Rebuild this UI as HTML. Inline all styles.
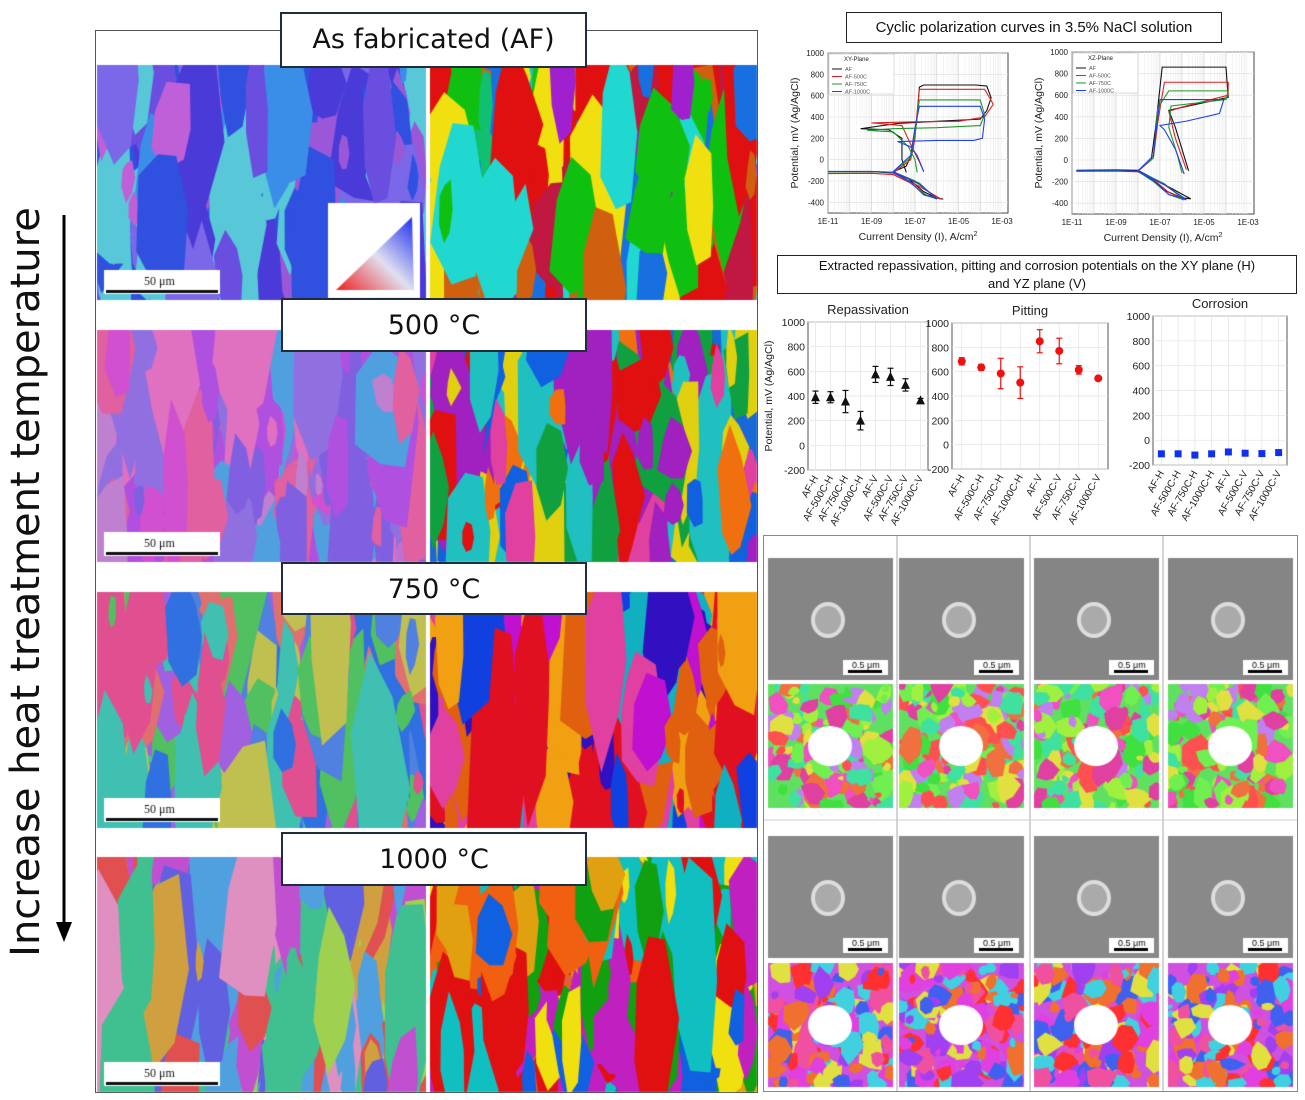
<!DOCTYPE html>
<html><head><meta charset="utf-8">
<style>
body{margin:0;width:1305px;height:1100px;background:#fff;position:relative;overflow:hidden;font-family:"Liberation Sans",sans-serif}
.abs{position:absolute}
.lbl{position:absolute;background:#fff;border:2px solid #1f2d3d;box-sizing:border-box;font-family:"DejaVu Sans","Liberation Sans",sans-serif;font-size:27px;text-align:center;color:#111}
.tbox{position:absolute;background:#fff;border:1.5px solid #222;box-sizing:border-box;font-size:14px;text-align:center;color:#111}
canvas{position:absolute}
</style></head><body>
<div class="abs" style="left:-354px;top:560px;width:760px;height:44px;transform:rotate(-90deg);font-size:40px;line-height:44px;text-align:center;white-space:nowrap;color:#111;font-family:'DejaVu Sans',sans-serif">Increase heat treatment temperature</div>
<svg class="abs" style="left:52px;top:210px" width="30" height="740"><line x1="12" y1="5" x2="12" y2="715" stroke="#000" stroke-width="3"/><polygon points="4,712 20,712 12,732" fill="#000"/></svg>

<div class="abs" style="left:95px;top:30px;width:663px;height:1063px;border:1px solid #555;box-sizing:border-box"></div>
<canvas id="ebsd" style="left:0;top:0" width="1305" height="1100"></canvas>
<div class="lbl" style="left:280px;top:12px;width:307px;height:56px;line-height:52px">As fabricated (AF)</div>
<div class="lbl" style="left:281px;top:298px;width:306px;height:54px;line-height:52px">500 °C</div>
<div class="lbl" style="left:281px;top:562px;width:306px;height:53px;line-height:51px">750 °C</div>
<div class="lbl" style="left:281px;top:832px;width:306px;height:54px;line-height:52px">1000 °C</div>

<div class="tbox" style="left:846px;top:12px;width:376px;height:31px;line-height:29px;font-size:15px">Cyclic polarization curves in 3.5% NaCl solution</div>
<div class="tbox" style="left:777px;top:255px;width:520px;height:39px;font-size:13px;line-height:18px;padding-top:1px">Extracted repassivation, pitting and corrosion potentials on the XY plane (H)<br>and YZ plane (V)</div>

<svg id="charts" class="abs" style="left:0;top:0" width="1305" height="1100"></svg>

<script>
// ---------- chart data ----------
const categories=["AF-H","AF-500C-H","AF-750C-H","AF-1000C-H","AF-V","AF-500C-V","AF-750C-V","AF-1000C-V"];
const repValues=[390,390,355,200,575,555,490,365];
const repErr=[50,45,90,75,65,70,50,15];
const pitValues=[685,635,585,510,850,770,615,545];
const pitErr=[30,25,125,130,95,105,35,15];
const corValues=[-110,-110,-120,-110,-95,-105,-108,-100];
const corErr=[5,5,5,5,5,5,5,5];
const potTicks=[-200,0,200,400,600,800,1000];
const polYTicks=[-400,-200,0,200,400,600,800,1000];
const polXTicks=["1E-11","1E-09","1E-07","1E-05","1E-03"];
const seriesNames=["AF","AF-500C","AF-750C","AF-1000C"];
const seriesColors=["#111","#e02020","#1a9a2a","#1f3ff0"];
// polarization curves [log10(I), mV]
const xyCurves=[
 [[-11,-115],[-9,-112],[-8,-125],[-7.3,-180],[-6.6,-300],[-6,-360],[-5.7,-370],[-6,-360],[-7,-200],[-8,-115],[-7.4,-60],[-7.1,80],[-6.9,400],[-6.8,680],[-6.6,700],[-4.2,700],[-3.7,690],[-3.5,580],[-3.7,460],[-4,380],[-6,360],[-7.8,340],[-9.5,290],[-8.2,280],[-7.6,200],[-7.6,0],[-7.4,-120]],
 [[-11,-130],[-9,-128],[-8,-140],[-7.2,-220],[-6.5,-330],[-5.8,-370],[-6.8,-250],[-8,-125],[-7.2,0],[-7,200],[-6.9,450],[-6.8,660],[-3.8,660],[-3.4,520],[-3.8,400],[-5,360],[-7,355],[-9,345],[-7.6,320],[-7.1,100],[-6.8,-20],[-6.6,-110]],
 [[-11,-115],[-9,-112],[-8,-120],[-7.3,-200],[-6.6,-320],[-6,-370],[-6.8,-220],[-8,-115],[-7.2,20],[-7,250],[-6.8,560],[-4,560],[-3.8,420],[-4,320],[-6,300],[-8,290],[-9.2,275],[-8,260],[-7.3,120],[-7,0],[-6.9,-120]],
 [[-11,-110],[-9,-110],[-8,-118],[-7.2,-210],[-6.6,-330],[-6,-365],[-6.8,-230],[-8,-112],[-7.2,40],[-7,300],[-6.8,500],[-4,500],[-3.8,380],[-3.9,200],[-4.3,180],[-6,180],[-7.8,170],[-7.2,120],[-6.9,40],[-6.7,-60],[-6.6,-115]]
];
const xzCurves=[
 [[-10.8,-95],[-9,-92],[-8,-95],[-7.4,-160],[-6.8,-280],[-6,-350],[-5.6,-360],[-6.6,-250],[-8,-100],[-7.4,0],[-7.2,300],[-6.9,860],[-4,860],[-3.9,580],[-6.6,460],[-6.3,300],[-6,100],[-5.7,-100]],
 [[-10.8,-105],[-9,-102],[-8,-110],[-7.3,-180],[-6.6,-300],[-5.8,-370],[-6.8,-230],[-8,-105],[-7.3,20],[-7.1,350],[-6.8,720],[-3.9,720],[-3.9,600],[-6,490],[-6.6,450],[-6.3,200],[-5.8,-90]],
 [[-10.8,-100],[-9,-98],[-8,-105],[-7.3,-200],[-6.6,-320],[-5.9,-370],[-6.8,-220],[-8,-100],[-7.3,20],[-7.1,480],[-6.6,640],[-3.9,640],[-4,560],[-6.5,500],[-6.6,300],[-6.2,40],[-6,-120]],
 [[-10.8,-100],[-9,-100],[-8,-102],[-7.3,-190],[-6.6,-320],[-5.8,-365],[-6.8,-230],[-8,-100],[-7.3,40],[-7.1,400],[-7,560],[-4.1,560],[-4.3,430],[-5.8,360],[-7,320],[-6.8,280],[-6.3,100],[-5.9,-130]]
];
const NS="http://www.w3.org/2000/svg";
const svg=document.getElementById('charts');
function mk(tag,attrs,parent,name,inter){const e=document.createElementNS(NS,tag);for(const k in attrs)e.setAttribute(k,attrs[k]);(parent||svg).appendChild(e);
 
 
 return e;}
function txt(x,y,s,opt,parent,name){const t=mk('text',Object.assign({x:x,y:y,'font-family':'Liberation Sans, sans-serif','font-size':10,fill:'#222'},opt||{}),parent,name||'label');t.textContent=s;return t;}

// ---------- polarization charts ----------
function polChart(x0,x1,y0,y1,curves,legTitle,id){
 const g=mk('g',{},svg,id);
 const sx=v=>x0+(v+11)/8*(x1-6-x0);
 const sy=v=>y0+(1000-v)/1500*(y1-y0);
 mk('rect',{x:x0,y:y0,width:x1-x0,height:y1-y0,fill:'#fff',stroke:'#444','stroke-width':1},g,'plot-area');
 for(let d=-11;d<-3;d++)for(let m=1;m<10;m++){const xx=sx(d+Math.log10(m));mk('line',{x1:xx,x2:xx,y1:y0,y2:y1,stroke:m==1?'#ccc':'#eee','stroke-width':0.6},g,'grid-x');}
 polYTicks.forEach(v=>{mk('line',{x1:x0,x2:x1,y1:sy(v),y2:sy(v),stroke:'#ddd','stroke-width':0.6},g,'grid-y');txt(x0-4,sy(v)+3,String(v),{'text-anchor':'end','font-size':8},g,'y-tick');});
 polXTicks.forEach((s,i)=>txt(sx(-11+2*i),y1+11,s,{'text-anchor':'middle','font-size':8},g,'x-tick'));
 const t=txt((x0+x1)/2,y1+27,'Current Density (I), A/cm',{'text-anchor':'middle','font-size':10.5},g,'x-axis-title');
 const sp=document.createElementNS(NS,'tspan');sp.setAttribute('dy','-4');sp.setAttribute('font-size','7');sp.textContent='2';t.appendChild(sp);
 txt(0,0,'Potential, mV (Ag/AgCl)',{'text-anchor':'middle','font-size':10.5,transform:`translate(${x0-30},${(y0+y1)/2}) rotate(-90)`},g,'y-axis-title');
 curves.forEach((c,i)=>{mk('polyline',{points:c.map(p=>sx(p[0])+','+sy(p[1])).join(' '),fill:'none',stroke:seriesColors[i],'stroke-width':1.1},g,'curve-'+seriesNames[i].toLowerCase());});
 mk('rect',{x:x0+1,y:y0+1,width:65,height:40,fill:'#fff',stroke:'#bbb','stroke-width':0.5},g,'legend');
 txt(x0+16,y0+8,legTitle,{'font-size':6},g,'legend-title');
 seriesNames.forEach((n,i)=>{const yy=y0+16+i*7.5;mk('line',{x1:x0+4,x2:x0+14,y1:yy,y2:yy,stroke:seriesColors[i],'stroke-width':1},g,'legend-line');txt(x0+17,yy+2,n,{'font-size':5.5,fill:'#555'},g,'legend-entry');});
}
polChart(828,1008,53,213,xyCurves,'XY-Plane','xy-polarization-chart');
polChart(1072,1254,52,214,xzCurves,'XZ-Plane','xz-polarization-chart');

// ---------- potential charts ----------
function potChart(x0,x1,y0,y1,title,vals,errs,color,marker,showY,id){
 const g=mk('g',{},svg,id);
 const n=categories.length,pad=(x1-x0)/(n*2);
 const sx=i=>x0+pad+i*(x1-x0-2*pad)/(n-1);
 const sy=v=>y0+(1000-v)/1200*(y1-y0);
 mk('rect',{x:x0,y:y0,width:x1-x0,height:y1-y0,fill:'#fff',stroke:'#555','stroke-width':1},g,'plot-area');
 potTicks.forEach(v=>{mk('line',{x1:x0,x2:x1,y1:sy(v),y2:sy(v),stroke:'#e2e2e2','stroke-width':0.7},g,'grid-y');txt(x0-3,sy(v)+4,String(v),{'text-anchor':'end','font-size':10.5},g,'y-tick');});
 categories.forEach((c,i)=>{mk('line',{x1:sx(i),x2:sx(i),y1:y0,y2:y1,stroke:'#e2e2e2','stroke-width':0.7},g,'grid-x');
  txt(0,0,c,{'text-anchor':'end','font-size':10,transform:`translate(${sx(i)+3},${y1+8}) rotate(-60)`},g,'x-tick');});
 txt((x0+x1)/2,y0-8,title,{'text-anchor':'middle','font-size':13},g,'chart-title');
 if(showY)txt(0,0,'Potential, mV (Ag/AgCl)',{'text-anchor':'middle','font-size':10.5,transform:`translate(${x0-36},${(y0+y1)/2}) rotate(-90)`},g,'y-axis-title');
 vals.forEach((v,i)=>{const x=sx(i);
  mk('line',{x1:x,x2:x,y1:sy(v+errs[i]),y2:sy(v-errs[i]),stroke:color,'stroke-width':1.2},g,'error-bar');
  [v+errs[i],v-errs[i]].forEach(e=>mk('line',{x1:x-3,x2:x+3,y1:sy(e),y2:sy(e),stroke:color,'stroke-width':1.2},g,'error-cap'));
  if(marker=='tri')mk('polygon',{points:`${x},${sy(v)-5} ${x-4.5},${sy(v)+4} ${x+4.5},${sy(v)+4}`,fill:color},g,'point');
  else if(marker=='circ')mk('circle',{cx:x,cy:sy(v),r:4,fill:color},g,'point');
  else mk('rect',{x:x-3.5,y:sy(v)-3.5,width:7,height:7,fill:color},g,'point');});
}
potChart(808,928,322,470,'Repassivation',repValues,repErr,'#111','tri',true,'repassivation-chart');
potChart(952,1108,323,469,'Pitting',pitValues,pitErr,'#f01010','circ',false,'pitting-chart');
potChart(1153,1287,316,465,'Corrosion',corValues,corErr,'#1030f0','sq',false,'corrosion-chart');

// ---------- SEM/IPF grid ----------
mk('rect',{x:763.5,y:535.5,width:534,height:556,fill:'none',stroke:'#888','stroke-width':1},svg,'sem-frame');
[897,1030,1163].forEach(x=>mk('line',{x1:x,x2:x,y1:536,y2:1091,stroke:'#aaa','stroke-width':1},svg,'sem-divider'));
mk('line',{x1:764,x2:1297,y1:820,y2:820,stroke:'#ccc','stroke-width':1},svg,'sem-divider');
</script>

<script>
// decorative micrographs (not chart data)
let seed=7;function rnd(){seed=(seed*16807)%2147483647;return seed/2147483647;}
const cv=document.getElementById('ebsd'),ctx=cv.getContext('2d');
function grains(x,y,w,h,pal,n,elong,bg){
 ctx.save();ctx.beginPath();ctx.rect(x,y,w,h);ctx.clip();
 ctx.fillStyle=bg;ctx.fillRect(x,y,w,h);
 for(let i=0;i<n;i++){const cx=x+rnd()*w,cy=y+rnd()*h,rw=4+rnd()*w*0.09,rh=rw*(elong?2+rnd()*3:0.7+rnd()*0.8);
  ctx.fillStyle=pal[Math.floor(rnd()*pal.length)];ctx.beginPath();
  const k=7;for(let j=0;j<k;j++){const a=j/k*Math.PI*2,r=0.6+rnd()*0.5;ctx.lineTo(cx+Math.cos(a)*rw*r,cy+Math.sin(a)*rh*r);}
  ctx.closePath();ctx.fill();}
 ctx.restore();}
const rows=[[65,300],[330,562],[592,828],[857,1092]];
const palL=[["#4a3ad8","#6a4ee0","#3a8ee8","#58c8d8","#9a58d8","#c060d8","#3050e0","#7a68e8"],
 ["#d050d0","#b050e0","#e070c0","#8060e0","#50a0e0","#c080d0","#e060a0","#9070e0"],
 ["#e05090","#5080e0","#40c0b0","#a060e0","#e07070","#50c060","#c0c050","#3070e0"],
 ["#e05050","#50a0e0","#a0d050","#e090c0","#6060e0","#d0a040","#40c090","#c050d0"]];
const palR=[["#1870e0","#c01840","#20d8d0","#a020d0","#e01010","#d06010","#10c070","#f0e010","#10c010"],
 ["#1060e0","#e0d010","#e01010","#20c0c0","#a020c0","#10a040","#f07010","#e040a0"],
 ["#e01020","#e06010","#c010d0","#1040e0","#f0a010","#10b0c0","#e040a0","#3010c0"],
 ["#e01010","#10a010","#1060e0","#e0a010","#c020c0","#10c0c0","#f06010","#f0e010"]];
const bgL=["#5060d8","#c070d0","#7080d0","#c07080"],bgR=["#20c0c0","#1868d8","#d03060","#e06030"];
rows.forEach((r,i)=>{grains(97,r[0],329,r[1]-r[0],palL[i],260,true,bgL[i]);grains(430,r[0],327,r[1]-r[0],palR[i],200,true,bgR[i]);
 ctx.fillStyle="#fff";ctx.fillRect(104,r[1]-30,116,24);ctx.fillStyle="#111";ctx.fillRect(106,r[1]-10,112,3);
 ctx.font="12px Liberation Serif";ctx.fillText("50 μm",144,r[1]-15);});
ctx.fillStyle="#fff";ctx.fillRect(426,65,4,1027);
// IPF triangle
ctx.fillStyle="#fff";ctx.fillRect(328,203,92,95);
let gr=ctx.createLinearGradient(336,290,410,215);gr.addColorStop(0,"#f02020");gr.addColorStop(0.5,"#e0e0f0");gr.addColorStop(1,"#2030f0");
ctx.fillStyle=gr;ctx.beginPath();ctx.moveTo(336,290);ctx.lineTo(414,290);ctx.lineTo(412,217);ctx.closePath();ctx.fill();
// SEM + IPF tiles
const cols=[768,899,1034,1168];
const ipfPal=["#40e040","#70f050","#e040a0","#f07040","#e0e040","#f050c0","#40e0a0","#ff5050","#a0f040","#c080f0"];
[[558,684],[836,963]].forEach((rr,ri)=>cols.forEach((x,ci)=>{
 ctx.fillStyle=ri==0?"#858585":"#898989";ctx.fillRect(x,rr[0],125,122);
 ctx.fillStyle="#ddd";ctx.beginPath();ctx.ellipse(x+60,rr[0]+62,17,18,0,0,7);ctx.fill();
 ctx.fillStyle="#aaa";ctx.beginPath();ctx.ellipse(x+60,rr[0]+62,13,14,0,0,7);ctx.fill();
 ctx.fillStyle="#fff";ctx.fillRect(x+75,rr[0]+102,45,15);ctx.fillStyle="#000";ctx.fillRect(x+80,rr[0]+112,34,3);
 ctx.font="9px Liberation Sans";ctx.fillText("0.5 μm",x+84,rr[0]+110);
 const pal=ri==0?ipfPal:["#e040e0","#f07030","#4060f0","#f050a0","#e0e040","#40d0e0","#ff3030","#a040f0"];
 grains(x,rr[1],125,124,pal,140,false,ri==0?"#60e060":"#d050e0");
 ctx.fillStyle="#fff";ctx.beginPath();ctx.ellipse(x+62,rr[1]+62,22,20,0,0,7);ctx.fill();
}));
</script>
</body></html>
